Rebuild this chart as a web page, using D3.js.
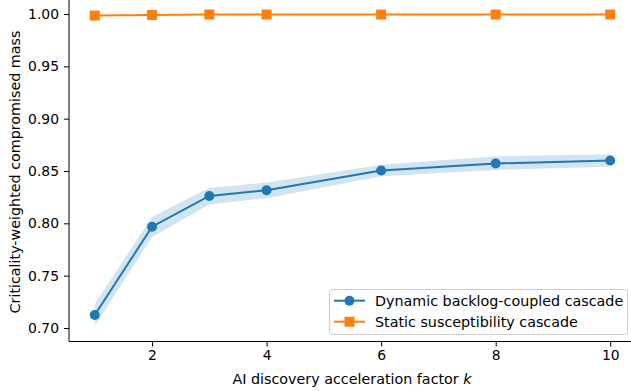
<!DOCTYPE html>
<html><head><meta charset="utf-8">
<script src="https://cdn.jsdelivr.net/npm/d3@7"></script>
<style>body{margin:0;background:#fff}svg{display:block}text{font-family:"DejaVu Sans",sans-serif}</style>
</head><body><svg id="c" width="631" height="391"></svg>
<script>
const kValues = [1, 2, 3, 4, 6, 8, 10];
const dynamicMean = [0.7124, 0.7968, 0.8262, 0.8316, 0.8505, 0.8572, 0.8600];
const dynamicLow  = [0.7020, 0.7870, 0.8180, 0.8240, 0.8450, 0.8510, 0.8540];
const dynamicHigh = [0.7230, 0.8060, 0.8340, 0.8390, 0.8560, 0.8640, 0.8660];
const staticMean  = [0.9985, 0.9990, 0.9995, 0.9995, 0.9995, 0.9995, 0.9995];
const xTicks = [2, 4, 6, 8, 10];
const yTicks = [0.70, 0.75, 0.80, 0.85, 0.90, 0.95, 1.00];
const seriesNames = ["Dynamic backlog-coupled cascade", "Static susceptibility cascade"];
const colors = ["#1f77b4", "#ff7f0e"];

const FS = 13.9, FL = 14.3;
const svg = d3.select("#c");
const left = 69, bottom = 341.5, right = 636;
const x = d3.scaleLinear().domain([0.55, 10.45]).range([left, right]);
const y = d3.scaleLinear().domain([0.70, 1.00]).range([328, 14]);

const g = svg.append("g");
const area = d3.area().x((d,i)=>x(kValues[i])).y0((d,i)=>y(dynamicLow[i])).y1((d,i)=>y(dynamicHigh[i]));
g.append("path").datum(kValues).attr("d", area).attr("fill", colors[0]).attr("fill-opacity", 0.2);
const line = arr => d3.line().x((d,i)=>x(kValues[i])).y(d=>y(d))(arr);
g.append("path").attr("d", line(dynamicMean)).attr("fill","none").attr("stroke",colors[0]).attr("stroke-width",2);
g.selectAll(".dm").data(dynamicMean).join("circle").attr("cx",(d,i)=>x(kValues[i])).attr("cy",d=>y(d)).attr("r",5).attr("fill",colors[0]);
g.append("path").attr("d", line(staticMean)).attr("fill","none").attr("stroke",colors[1]).attr("stroke-width",2);
g.selectAll(".sm").data(staticMean).join("rect").attr("x",(d,i)=>x(kValues[i])-5).attr("y",d=>y(d)-5).attr("width",10).attr("height",10).attr("fill",colors[1]);

const xa = svg.append("g").attr("transform",`translate(0,${bottom})`)
  .call(d3.axisBottom(x).tickValues(xTicks).tickFormat(d3.format("d")).tickSize(5).tickPadding(4));
const ya = svg.append("g").attr("transform",`translate(${left},0)`)
  .call(d3.axisLeft(y).tickValues(yTicks).tickFormat(d3.format(".2f")).tickSize(5).tickPadding(5));
ya.select(".domain").attr("d", `M0,${bottom}V0`);
xa.select(".domain").attr("d", `M${left},0H${right}`);
[xa, ya].forEach(a => {
  a.selectAll("text").attr("font-size", FS).attr("fill", "#000").attr("font-family", "DejaVu Sans");
  a.selectAll("line,.domain").attr("stroke", "#000").attr("stroke-width", 1);
});

svg.append("text").attr("x", 352).attr("y", 383.5).attr("text-anchor","middle").attr("font-size",FL)
  .html('AI discovery acceleration factor <tspan font-style="italic">k</tspan>');
svg.append("text").attr("transform","translate(19.5,172) rotate(-90)").attr("text-anchor","middle").attr("font-size",FL)
  .text("Criticality-weighted compromised mass");

const lg = svg.append("g");
lg.append("rect").attr("x",329.5).attr("y",289.5).attr("width",298).attr("height",45).attr("rx",3)
  .attr("fill","#fff").attr("fill-opacity",0.8).attr("stroke","#ccc");
seriesNames.forEach((name, i) => {
  const cy = 300.7 + i * 21;
  lg.append("line").attr("x1",334).attr("x2",365).attr("y1",cy).attr("y2",cy).attr("stroke",colors[i]).attr("stroke-width",2);
  if (i === 0) lg.append("circle").attr("cx",349.5).attr("cy",cy).attr("r",5).attr("fill",colors[i]);
  else lg.append("rect").attr("x",344.5).attr("y",cy-5).attr("width",10).attr("height",10).attr("fill",colors[i]);
  lg.append("text").attr("x",375).attr("y",cy+5).attr("font-size",FL).text(name);
});
</script></body></html>
